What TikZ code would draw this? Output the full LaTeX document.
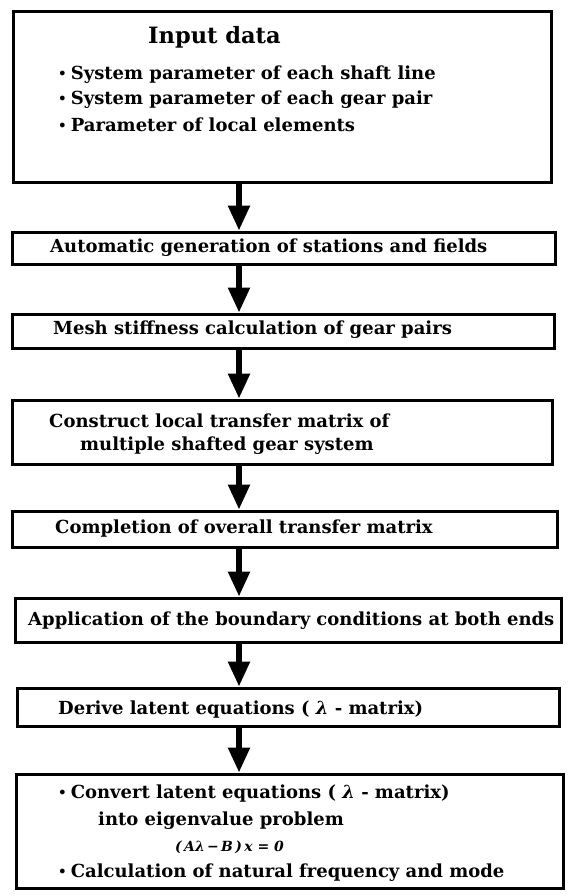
\documentclass[tikz,border=0pt]{standalone}
\usepackage{fontspec}
\usepackage{graphicx}
\setmainfont{DejaVu Serif}
\usetikzlibrary{arrows.meta}
\newcommand{\bul}{\raisebox{1.6pt}{\scalebox{0.75}{•}}\hspace{4pt}}
\begin{document}
\begin{tikzpicture}[x=1pt,y=-1pt,
  boxst/.style={draw=black, line width=3pt, inner sep=0pt},
  lbl/.style={anchor=west, inner sep=0pt, font=\bfseries\fontsize{18}{21}\selectfont},
  flow/.style={line width=5.5pt, -{Triangle[width=21pt,length=25pt]}}
]
\useasboundingbox (0,0) rectangle (570,896);
\coordinate (ax) at (239,0);
% boxes
\node[boxst, minimum width=538pt, minimum height=171pt] (b1) at (282,97.5) {};
\node[boxst, minimum width=543pt, minimum height=32pt] (b2) at (283.5,248) {};
\node[boxst, minimum width=542pt, minimum height=34pt] (b3) at (283,331) {};
\node[boxst, minimum width=540pt, minimum height=64pt] (b4) at (282,432) {};
\node[boxst, minimum width=545pt, minimum height=36pt] (b5) at (284.5,529) {};
\node[boxst, minimum width=546pt, minimum height=44pt] (b6) at (288,620) {};
\node[boxst, minimum width=542pt, minimum height=38pt] (b7) at (288,707) {};
\node[boxst, minimum width=547pt, minimum height=114pt] (b8) at (289.5,831) {};
% texts
\node[lbl, font=\bfseries\fontsize{22.5}{26}\selectfont] (t1) at (148,37) {Input data};
\node[lbl] (t1a) at (58,75) {\bul System parameter of each shaft line};
\node[lbl] (t1b) at (58,100) {\bul System parameter of each gear pair};
\node[lbl] (t1c) at (58,125) {\bul Parameter of local elements};
\node[lbl] (t2) at (50,248) {Automatic generation of stations and fields};
\node[lbl] (t3) at (53,330) {Mesh stiffness calculation of gear pairs};
\node[lbl] (t4a) at (49,421) {Construct local transfer matrix of};
\node[lbl] (t4b) at (80,446) {multiple shafted gear system};
\node[lbl] (t5) at (55,529) {Completion of overall transfer matrix};
\node[lbl] (t6) at (28,621) {Application of the boundary conditions at both ends};
\node[lbl] (t7) at (58,710) {Derive latent equations ( \textit{λ} - matrix)};
\node[lbl] (t8a) at (58,794) {\bul Convert latent equations ( \textit{λ} - matrix)};
\node[lbl] (t8b) at (98,821) {into eigenvalue problem};
\node[lbl, font=\bfseries\itshape\fontsize{14}{16}\selectfont] (t8c) at (175,847) {(\,Aλ\,−\,B\,)\,x = 0};
\node[lbl] (t8d) at (58,873) {\bul Calculation of natural frequency and mode};
% arrows
\draw[flow] (b1.south -| ax) -- (b2.north -| ax);
\draw[flow] (b2.south -| ax) -- (b3.north -| ax);
\draw[flow] (b3.south -| ax) -- (b4.north -| ax);
\draw[flow] (b4.south -| ax) -- (b5.north -| ax);
\draw[flow] (b5.south -| ax) -- (b6.north -| ax);
\draw[flow] (b6.south -| ax) -- (b7.north -| ax);
\draw[flow] (b7.south -| ax) -- (b8.north -| ax);
\end{tikzpicture}
\end{document}
